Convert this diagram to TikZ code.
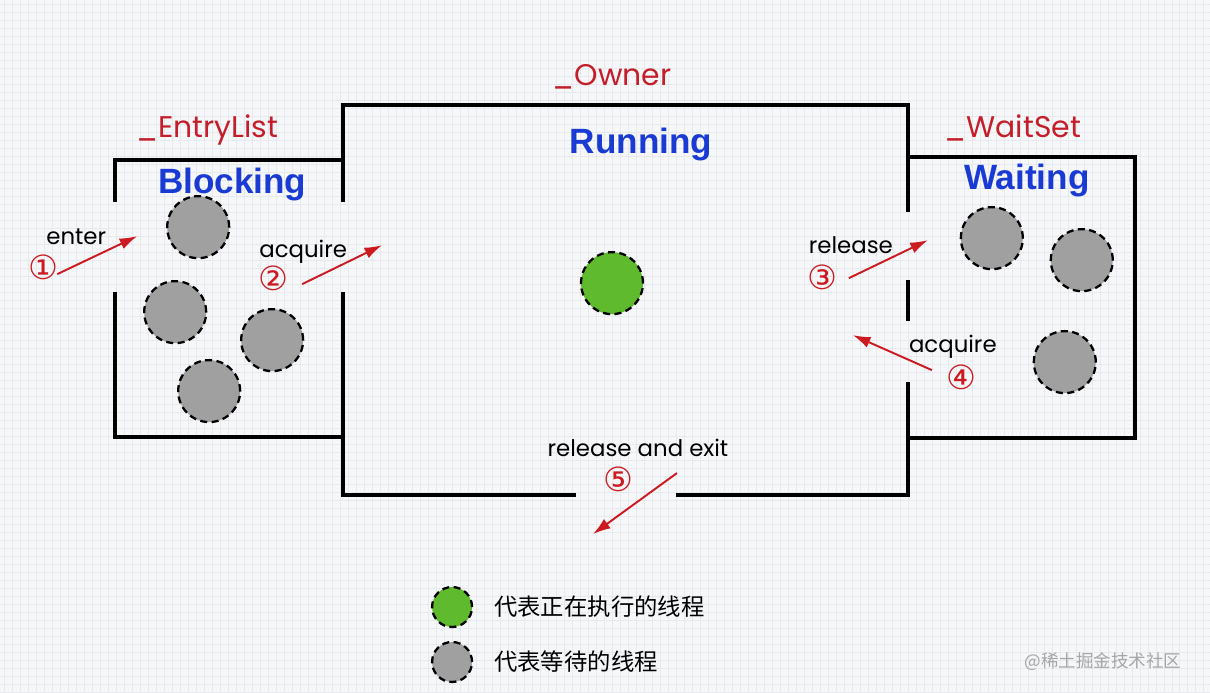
\documentclass[tikz,border=0pt]{standalone}
\usepackage{fontspec}
\setmainfont{Poppins}
\newfontfamily\titlefont{Liberation Sans}
\newfontfamily\cjkfont{Noto Sans CJK SC}
\newfontfamily\numfont{DejaVu Sans}
\usetikzlibrary{arrows.meta, positioning}

\definecolor{paper}{RGB}{246,247,249}
\definecolor{gridline}{RGB}{231,233,238}
\definecolor{arrowred}{RGB}{204,26,32}
\definecolor{labelred}{RGB}{196,30,42}
\definecolor{titleblue}{RGB}{26,58,212}
\definecolor{threadgray}{RGB}{160,160,160}
\definecolor{threadgreen}{RGB}{96,186,46}

\tikzset{
	wall/.style = {line width = 2pt, black},
	thread/.style = {circle, draw = black, line width = 1.3pt, dash pattern = on 4pt off 2.5pt, fill = threadgray, minimum size = 1.24cm, inner sep = 0pt},
	keydot/.style = {thread, minimum size = 0.8cm},
	flow/.style = {> = {Latex[length = 10pt, width = 6.5pt]}, ->, line width = 1.1pt, arrowred},
	roomname/.style = {labelred, font = \fontsize{17}{20}\selectfont},
	state/.style = {titleblue, font = \titlefont\bfseries\fontsize{20}{24}\selectfont},
	action/.style = {black, font = \fontsize{13}{16}\selectfont},
	stepno/.style = {arrowred, font = \numfont\fontsize{19}{21}\selectfont, inner sep = 0pt},
	legendtext/.style = {anchor = west, font = \cjkfont\fontsize{13.3}{16}\selectfont}
}

\begin{document}
\begin{tikzpicture}[x = 0.02cm, y = -0.02cm]

	% Paper
	
	\fill [paper] (0,0) rectangle (1210,692);
	\foreach \gx in {4, 12, ..., 1210} \draw [gridline, line width = 0.3pt] (\gx,0) -- (\gx,692);
	\foreach \gy in {4, 12, ..., 692} \draw [gridline, line width = 0.3pt] (0,\gy) -- (1210,\gy);
	\useasboundingbox (0,0) rectangle (1210,692);
	
	% Rooms
	
	\draw [wall] (115,202) -- (115,160) -- (343,160);
	\draw [wall] (115,292) -- (115,437) -- (343,437);
	\draw [wall] (343,202) -- (343,105) -- (908,105) -- (908,212);
	\draw [wall] (343,292) -- (343,495) -- (576,495);
	\draw [wall] (676,495) -- (908,495) -- (908,382);
	\draw [wall] (908,280) -- (908,321);
	\draw [wall] (908,157) -- (1135,157) -- (1135,438) -- (908,438);
	
	\node [roomname] (entrylist) at (207,130) {\_EntryList};
	\node [state] (blocking) at (232,184) {Blocking};
	\node [roomname] (owner) at (612,77) {\_Owner};
	\node [state] (running) at (641,144) {Running};
	\node [roomname] (waitset) at (1013,128) {\_WaitSet};
	\node [state] (waiting) at (1027,180) {Waiting};
	
	% Threads
	
	\node [thread] (blocked1) at (198,227) {};
	\node [thread] (blocked2) at (175,312) {};
	\node [thread] (blocked3) at (272,340) {};
	\node [thread] (blocked4) at (209,391) {};
	\node [thread, fill = threadgreen] (owner1) at (612,283) {};
	\node [thread] (waiting1) at (992,238) {};
	\node [thread] (waiting2) at (1082,260) {};
	\node [thread] (waiting3) at (1065,362) {};
	
	% Transitions
	
	\coordinate (enterfrom) at (57,274);
	\coordinate (enterto) at (137,236);
	\coordinate (acquirefrom) at (302,284);
	\coordinate (acquireto) at (382,245);
	\coordinate (releasefrom) at (849,278);
	\coordinate (releaseto) at (928,240);
	\coordinate (reacquirefrom) at (932,370);
	\coordinate (reacquireto) at (853,335);
	\coordinate (exitfrom) at (677,473);
	\coordinate (exitto) at (593,534);
	
	\draw [flow] (enterfrom) -- (enterto);
	\draw [flow] (acquirefrom) -- (acquireto);
	\draw [flow] (releasefrom) -- (releaseto);
	\draw [flow] (reacquirefrom) -- (reacquireto);
	\draw [flow] (exitfrom) -- (exitto);
	
	\node [action] (enter) at (76,237) {enter};
	\node [stepno] (one) at (43,267) {①};
	\node [action] (acquire) at (303,252) {acquire};
	\node [stepno] (two) at (273,278) {②};
	\node [action] (release) at (851,245) {release};
	\node [stepno] (three) at (823,277) {③};
	\node [action] (reacquire) at (953,347) {acquire};
	\node [stepno] (four) at (962,377) {④};
	\node [action] (exit) at (638,448) {release and exit};
	\node [stepno] (five) at (618,479) {⑤};
	
	% Legend
	
	\node [keydot, fill = threadgreen] (runkey) at (452,607) {};
	\node [legendtext] (runtext) at (488,607) {代表正在执行的线程};
	\node [keydot] (waitkey) at (452,662) {};
	\node [legendtext] (waittext) at (488,662) {代表等待的线程};
	
	\node [anchor = east, gray!70, font = \cjkfont\fontsize{10}{12}\selectfont] (mark) at (1188,662) {@稀土掘金技术社区};
	
\end{tikzpicture}
\end{document}
